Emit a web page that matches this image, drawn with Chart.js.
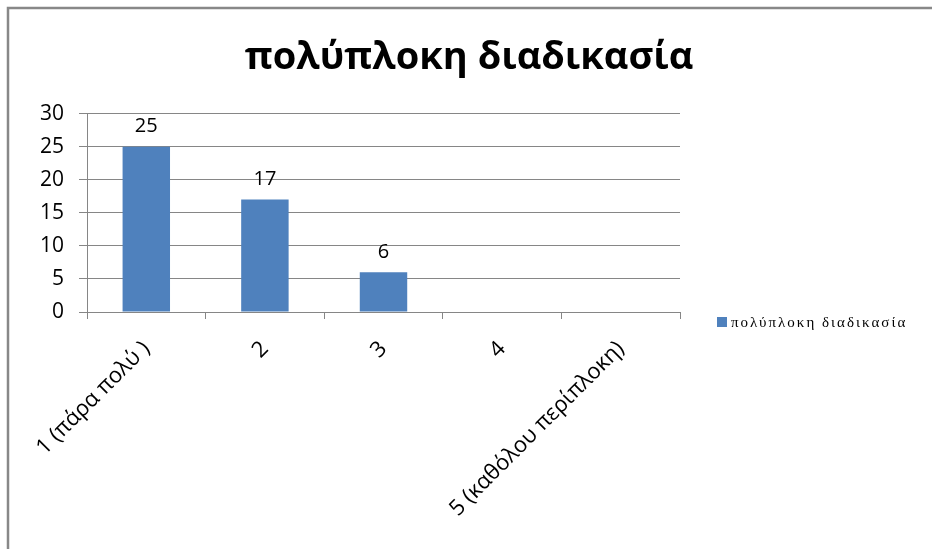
<!DOCTYPE html>
<html>
<head>
<meta charset="utf-8">
<script src="https://cdn.jsdelivr.net/npm/chart.js@4/dist/chart.umd.min.js"></script>
<style>
html,body{margin:0;padding:0;background:#fff;}
#wrap{width:932px;height:549px;position:relative;}
</style>
</head>
<body>
<div id="wrap"><canvas id="c" width="932" height="549"></canvas></div>
<script>
const chartTitle = "πολύπλοκη διαδικασία";
const seriesName = "πολύπλοκη διαδικασία";
const categories = ["1 (πάρα πολύ )", "2", "3", "4", "5 (καθόλου περίπλοκη)"];
const values = [25, 17, 6, 0, 0];
const yTicks = [0, 5, 10, 15, 20, 25, 30];

const FONT = "'Open Sans', 'DejaVu Sans', sans-serif";
const GRID = "#868686";
const BAR = "#4F81BD";

const framePlugin = {
  id: 'frame',
  beforeDraw(chart) {
    const ctx = chart.ctx;
    ctx.save();
    ctx.fillStyle = '#fff';
    ctx.fillRect(0, 0, chart.width, chart.height);
    ctx.strokeStyle = '#888';
    ctx.lineWidth = 2.5;
    ctx.beginPath();
    ctx.moveTo(8, chart.height);
    ctx.lineTo(8, 8);
    ctx.lineTo(chart.width, 8);
    ctx.stroke();
    ctx.restore();
  }
};

const labelPlugin = {
  id: 'valueLabels',
  afterDatasetsDraw(chart) {
    const ctx = chart.ctx;
    const meta = chart.getDatasetMeta(0);
    const data = chart.data.datasets[0].data;
    ctx.save();
    ctx.fillStyle = '#000';
    ctx.font = "20px " + FONT;
    ctx.textAlign = 'center';
    ctx.textBaseline = 'bottom';
    meta.data.forEach((el, i) => {
      if (data[i] > 0) ctx.fillText(String(data[i]), el.x, el.y - 10);
    });
    ctx.restore();
  }
};

const legendPlugin = {
  id: 'customLegend',
  afterDraw(chart) {
    const ctx = chart.ctx;
    const ds = chart.data.datasets[0];
    ctx.save();
    ctx.fillStyle = ds.backgroundColor;
    ctx.fillRect(717, 317, 10, 10);
    ctx.fillStyle = '#000';
    ctx.font = "15px 'Liberation Serif', serif";
    ctx.letterSpacing = "2px";
    ctx.textAlign = 'left';
    ctx.textBaseline = 'middle';
    ctx.fillText(ds.label, 731, 323);
    ctx.restore();
  }
};

new Chart(document.getElementById('c'), {
  type: 'bar',
  data: {
    labels: categories,
    datasets: [{
      label: seriesName,
      data: values,
      backgroundColor: BAR,
      borderWidth: 0,
      barPercentage: 0.4,
      categoryPercentage: 1.0,
      yAxisID: 'y'
    }]
  },
  options: {
    responsive: false,
    animation: false,
    devicePixelRatio: 1,
    layout: { padding: { left: 6, right: 0, top: 0, bottom: 0 } },
    plugins: {
      legend: { display: false },
      tooltip: { enabled: false },
      title: {
        display: true,
        text: chartTitle,
        color: '#000',
        font: { family: FONT, size: 38, weight: 'bold', lineHeight: 1.2 },
        padding: { top: 35, bottom: 33 }
      }
    },
    scales: {
      x: {
        grid: { display: true, drawOnChartArea: false, drawTicks: true, tickLength: 7, color: GRID, offset: true },
        border: { display: true, color: GRID, width: 1 },
        ticks: {
          color: '#000',
          font: { family: FONT, size: 22 },
          minRotation: 45,
          maxRotation: 45,
          autoSkip: false,
          padding: 17
        },
        afterFit(scale) { scale.height = 237; }
      },
      y: {
        min: 0,
        max: 30,
        afterBuildTicks(scale) { scale.ticks = yTicks.map(v => ({ value: v })); },
        grid: { color: GRID, lineWidth: 1, drawTicks: true, tickLength: 8 },
        border: { display: true, color: GRID, width: 1 },
        ticks: {
          color: '#000',
          font: { family: FONT, size: 21 },
          padding: 15
        },
        afterFit(scale) { scale.width = 81; }
      },
      spacer: {
        type: 'linear',
        position: 'right',
        display: true,
        grid: { display: false, drawTicks: false },
        border: { display: false },
        ticks: { display: false },
        afterFit(scale) { scale.width = 252; }
      }
    }
  },
  plugins: [framePlugin, labelPlugin, legendPlugin]
});
</script>
</body>
</html>
